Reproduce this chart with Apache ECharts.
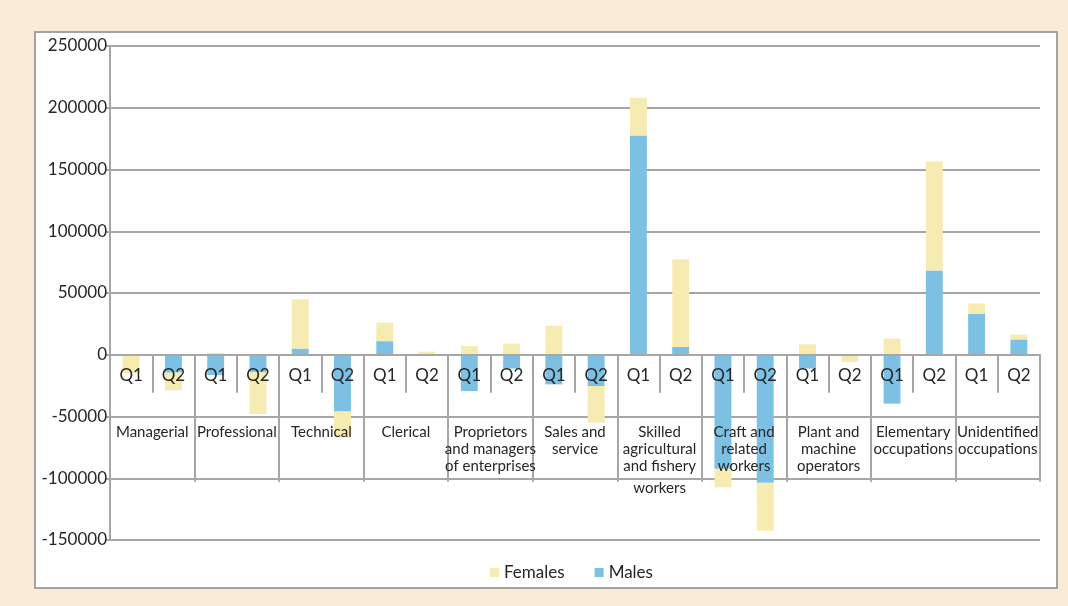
<!DOCTYPE html>
<html>
<head>
<meta charset="utf-8">
<script src="https://cdn.jsdelivr.net/npm/echarts@6/dist/echarts.min.js"></script>
<style>
  html, body { margin: 0; padding: 0; background: #faebd7; }
  #chart { width: 1068px; height: 606px; }
</style>
</head>
<body>
<div id="chart"></div>
<script>
// Occupation groups (outer category level)
const groups = [
  'Managerial', 'Professional', 'Technical', 'Clerical',
  'Proprietors\nand managers\nof enterprises', 'Sales and\nservice',
  'Skilled\nagricultural\nand fishery\nworkers', 'Craft and\nrelated\nworkers',
  'Plant and\nmachine\noperators', 'Elementary\noccupations', 'Unidentified\noccupations'
];
// Quarters (inner category level)
const quarters = ['Q1', 'Q2'];

// Change in employment, one value per group and quarter (Q1, Q2, Q1, Q2, ...)
const males = [
  -800, -14500,
  -16500, -14000,
  5000, -46000,
  11000, -1000,
  -29400, -11200,
  -24000, -25300,
  177600, 6300,
  -92400, -103700,
  -11200, 0,
  -39600, 68300,
  33100, 12400
];
const females = [
  -14000, -14300,
  1500, -34000,
  40000, -21000,
  15000, 2500,
  7000, 9000,
  23500, -29700,
  30400, 71000,
  -15000, -38800,
  8500, -5800,
  13000, 88200,
  8400, 3900
];

// Value axis ticks
const yMin = -150000, yMax = 250000, yStep = 50000;

const quarterLabels = [];
groups.forEach(() => quarters.forEach(q => quarterLabels.push(q)));

const gridTop = 46, gridBottom = 66, chartH = 606;
const plotH = chartH - gridTop - gridBottom;
// distance from the bottom of the plot up to the zero line
const zeroFromBottom = plotH * (0 - yMin) / (yMax - yMin);

const textColor = '#262626';
const lineColor = '#a6a6a6';
const font = 'Lato, "Open Sans", sans-serif';

const chart = echarts.init(document.getElementById('chart'), null, { renderer: 'canvas' });
chart.setOption({
  backgroundColor: '#faebd7',
  animation: false,
  graphic: [{
    type: 'rect', z: -10, silent: true,
    shape: { x: 35, y: 32, width: 1022, height: 556 },
    style: { fill: '#ffffff', stroke: '#a3a3a3', lineWidth: 2 }
  }],
  textStyle: { fontFamily: font },
  grid: { left: 110, right: 28, top: gridTop, bottom: gridBottom },
  legend: {
    data: ['Females', 'Males'],
    left: 485, top: 559,
    icon: 'rect', itemWidth: 9, itemHeight: 9, itemGap: 30, itemStyle: { borderWidth: 0 },
    textStyle: { fontSize: 17, color: textColor, fontFamily: font }
  },
  xAxis: [{
    type: 'category',
    data: quarterLabels,
    position: 'bottom',
    offset: -zeroFromBottom,
    z: 10,
    axisLine: { onZero: false, lineStyle: { color: lineColor, width: 2 } },
    axisTick: { show: true, interval: 0, length: 38, lineStyle: { color: lineColor, width: 2 } },
    axisLabel: { interval: 0, margin: 12, fontSize: 17, color: textColor, fontFamily: font }
  }, {
    type: 'category',
    data: groups,
    position: 'bottom',
    offset: -zeroFromBottom,
    z: 10,
    axisLine: { show: false, onZero: false },
    axisTick: { show: true, interval: 0, length: 127, lineStyle: { color: lineColor, width: 2 } },
    axisLabel: {
      interval: 0, margin: 69, fontSize: 15, lineHeight: 17, color: textColor, fontFamily: font,
      formatter: function (v) {
        const lines = v.split('\n');
        if (lines.length === 4) {
          return lines.slice(0, 3).map(s => '{a|' + s + '}').join('\n') + '\n{w|' + lines[3] + '}';
        }
        return lines.map(s => '{a|' + s + '}').join('\n');
      },
      rich: {
        a: { fontSize: 15, lineHeight: 17, color: textColor, fontFamily: font },
        w: { fontSize: 15, lineHeight: 27, color: textColor, fontFamily: font }
      }
    }
  }],
  yAxis: {
    type: 'value',
    min: yMin, max: yMax, interval: yStep,
    z: 0,
    axisLine: { show: true, lineStyle: { color: lineColor, width: 2 } },
    axisTick: { show: true, length: 4, lineStyle: { color: lineColor, width: 2 } },
    axisLabel: { margin: 3, fontSize: 17, color: textColor, fontFamily: font, formatter: v => String(v) },
    splitLine: { lineStyle: { color: lineColor, width: 2 } }
  },
  series: [{
    name: 'Males', type: 'bar', stack: 'total', data: males,
    barWidth: '40%',
    itemStyle: { color: '#7cc0e4' }
  }, {
    name: 'Females', type: 'bar', stack: 'total', data: females,
    barWidth: '40%',
    itemStyle: { color: '#f6ecb1' }
  }]
});
</script>
</body>
</html>
